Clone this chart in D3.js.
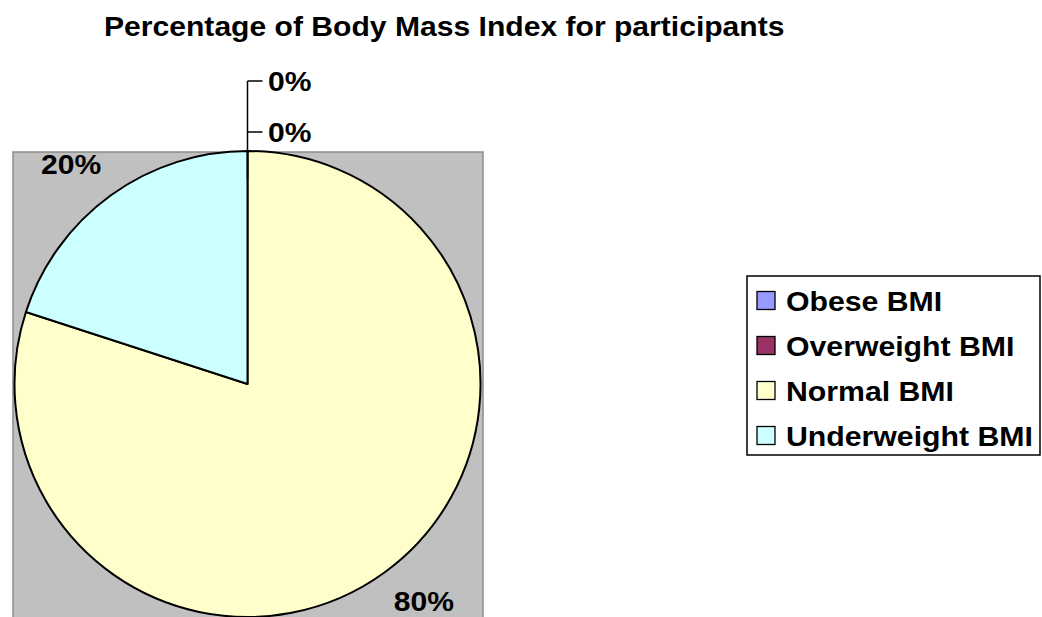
<!DOCTYPE html>
<html lang="en">
<head>
<meta charset="utf-8">
<title>BMI pie</title>
<script src="https://d3js.org/d3.v7.min.js"></script>
<style>
  body { margin: 0; background: #fff; }
  svg { display: block; }
  text { font-family: Arial, "Liberation Sans", sans-serif; font-weight: bold; fill: #000; }
  .title { font-size: 27px; }
  .lbl { font-size: 27px; }
  .leg { font-size: 28px; }
</style>
</head>
<body>
<div id="chart"></div>
<script>
// data
const categories = ["Obese BMI", "Overweight BMI", "Normal BMI", "Underweight BMI"];
const percents = [0, 0, 80, 20];
const colours = ["#9999FF", "#993366", "#FFFFCC", "#CCFFFF"];

const W = 1042, H = 617;
const SX = 1.115; // the original text is a bit wide
const svg = d3.select("#chart").append("svg")
  .attr("width", W).attr("height", H);

svg.append("text").attr("class", "title")
  .attr("transform", `translate(104,36) scale(${SX},1)`)
  .text("Percentage of Body Mass Index for participants");

// plot area
const plot = { x: 13, y: 152, w: 470, h: 480 };
svg.append("rect")
  .attr("x", plot.x).attr("y", plot.y)
  .attr("width", plot.w).attr("height", plot.h)
  .attr("fill", "#C0C0C0")
  .attr("stroke", "#8c8c8c").attr("stroke-width", 1.5);

const cx = 247.5, cy = 384, r = 233;
const g = svg.append("g").attr("transform", `translate(${cx},${cy})`);

const color = d3.scaleOrdinal().domain(categories).range(colours);
const pie = d3.pie().sort(null).value(d => d.v);
const slices = pie(categories.map((c, i) => ({ name: c, v: percents[i] })));
const arc = d3.arc().innerRadius(0).outerRadius(r);
const labelArc = d3.arc().innerRadius(300).outerRadius(300);

g.selectAll("path.slice")
  .data(slices)
  .join("path")
  .attr("class", "slice")
  .attr("d", arc)
  .attr("fill", d => color(d.data.name))
  .attr("stroke", "#000")
  .attr("stroke-width", 2)
  .attr("stroke-linejoin", "round");

// labels for non-zero slices, kept inside the plot area
const nonZero = slices.filter(d => d.data.v > 0);
g.selectAll("text.lbl")
  .data(nonZero)
  .join("text")
  .attr("class", "lbl")
  .attr("text-anchor", "middle")
  .attr("transform", d => {
    const [px, py] = labelArc.centroid(d);
    const x = Math.max(plot.x + 36, Math.min(plot.x + plot.w - 36, px + cx)) - cx;
    const y = Math.max(plot.y + 22, Math.min(H - 6, py + cy)) - cy;
    return `translate(${x},${y}) scale(${SX},1)`;
  })
  .text(d => d.data.v + "%");

// zero slices: stacked labels with leader lines above the pie
const zeros = slices.filter(d => d.data.v === 0);
const step = 51;
const topY = -r - 19 - step * (zeros.length - 1);
g.append("path")
  .attr("d", `M0,${topY}V${-r + 28}`)
  .attr("stroke", "#000").attr("stroke-width", 1.5).attr("fill", "none");
zeros.forEach((d, i) => {
  const y = topY + i * step;
  g.append("path")
    .attr("d", `M0,${y}H15`)
    .attr("stroke", "#000").attr("stroke-width", 1.5);
  g.append("text").attr("class", "lbl")
    .attr("transform", `translate(20.5,${y + 9.5}) scale(${SX},1)`)
    .text(d.data.v + "%");
});

// legend
const leg = svg.append("g").attr("transform", "translate(747,276)");
leg.append("rect")
  .attr("width", 293).attr("height", 179)
  .attr("fill", "#fff").attr("stroke", "#000").attr("stroke-width", 1.5);
const rows = leg.selectAll("g.row")
  .data(categories)
  .join("g")
  .attr("class", "row")
  .attr("transform", (d, i) => `translate(10,${24.5 + i * 45})`);
rows.append("rect")
  .attr("x", 0).attr("y", -9)
  .attr("width", 18).attr("height", 18)
  .attr("fill", d => color(d))
  .attr("stroke", "#000").attr("stroke-width", 1.3);
rows.append("text").attr("class", "leg")
  .attr("transform", "translate(29,10) scale(1.08,1)")
  .text(d => d);
</script>
</body>
</html>
